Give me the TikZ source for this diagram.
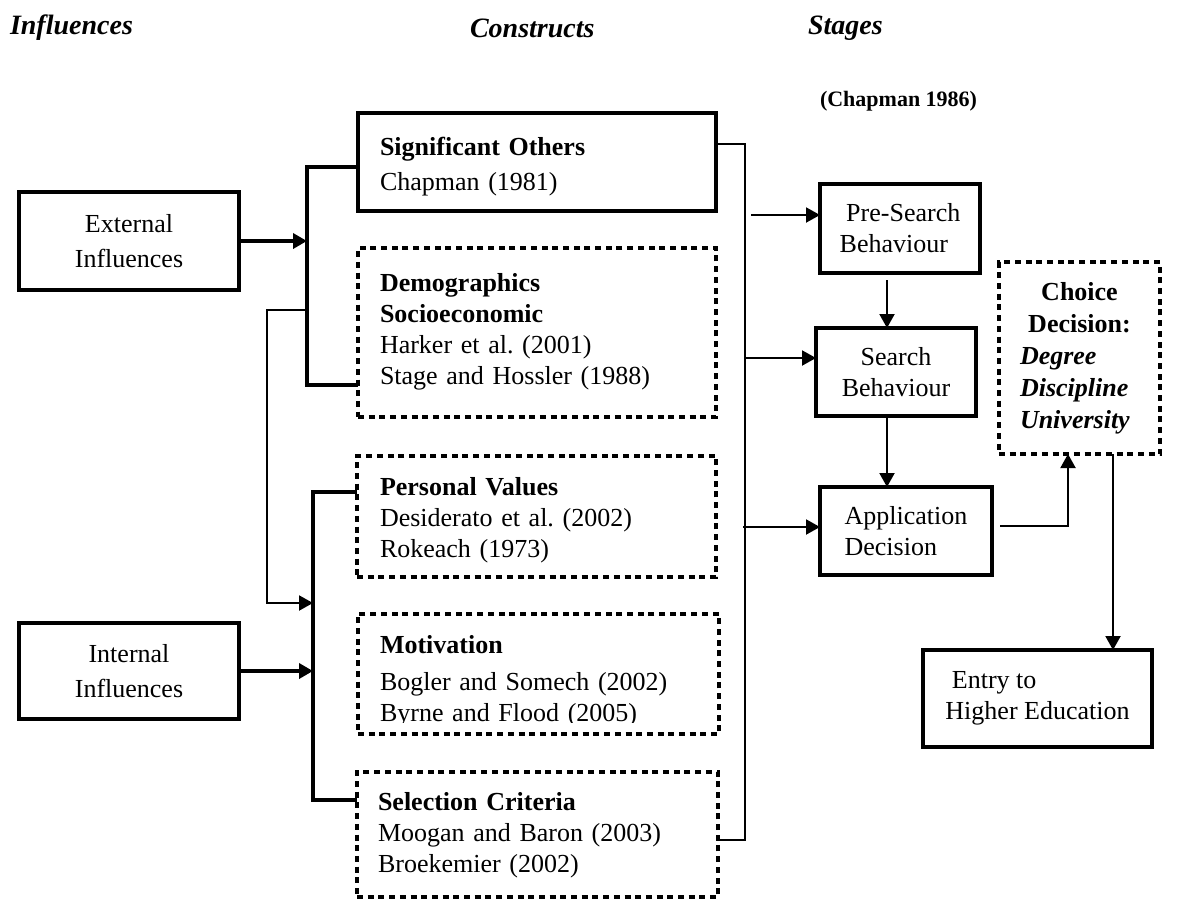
\documentclass[tikz,border=0pt]{standalone}
\usepackage{fontspec}
\setmainfont{Liberation Serif}
\usetikzlibrary{arrows.meta}
\frenchspacing
\begin{document}
\begin{tikzpicture}[x=1pt,y=-1pt,
  every node/.style={inner sep=0pt, outer sep=0pt, font=\fontsize{26}{31}\selectfont},
  hdr/.style={anchor=west, font=\fontsize{28}{32}\selectfont\bfseries\itshape},
  solidbox/.style={draw, rectangle, line width=4pt},
  stagebox/.style={draw, rectangle, line width=3.5pt, align=left},
  dotbox/.style={draw, rectangle, line width=3.5pt, dash pattern=on 6pt off 4.7pt},
  cite/.style={anchor=base west, align=left, text width=330pt},
  thick link/.style={line width=4pt},
  thin link/.style={line width=2pt},
  tip/.style={-{Triangle[length=14pt,width=15pt]}},
]
\useasboundingbox (0,0) rectangle (1193,900);

% column headings
\node[hdr] (hinf) at (10,28) {Influences};
\node[hdr] (hcon) at (470,28) {Constructs};
\node[hdr] (hsta) at (808,28) {Stages};
\node[anchor=west, font=\fontsize{22}{26}\selectfont\bfseries] (hchap) at (820,101) {(Chapman 1986)};

% influences
\node[solidbox, minimum width=220pt, minimum height=98pt, align=center,
      font=\fontsize{26}{35}\selectfont] (ext) at (129,241) {External\\Influences};
\node[solidbox, minimum width=220pt, minimum height=96pt, align=center,
      font=\fontsize{26}{35}\selectfont] (int) at (129,671) {Internal\\Influences};

% constructs
\node[solidbox, minimum width=358pt, minimum height=98pt] (sig) at (537,162) {};
\node[cite] (sigtxt) at (380,155) {\textbf{Significant Others}\\[4pt]Chapman (1981)};

\node[dotbox, minimum width=358pt, minimum height=169pt] (demo) at (537,332.5) {};
\node[cite] (demotxt) at (380,291) {\textbf{Demographics}\\\textbf{Socioeconomic}\\Harker et al. (2001)\\Stage and Hossler (1988)};

\node[dotbox, minimum width=359pt, minimum height=121pt] (pers) at (536.5,516.5) {};
\node[cite] (perstxt) at (380,495) {\textbf{Personal Values}\\Desiderato et al. (2002)\\Rokeach (1973)};

\node[dotbox, minimum width=361pt, minimum height=120pt] (motiv) at (538.5,674) {};
\begin{scope}
  \clip (360,616) rectangle (716,722);
  \node[cite] (motivtxt) at (380,653) {\textbf{Motivation}\\[6pt]Bogler and Somech (2002)\\Byrne and Flood (2005)};
\end{scope}

\node[dotbox, minimum width=361pt, minimum height=125pt] (sel) at (537.5,834.5) {};
\node[cite] (seltxt) at (378,810) {\textbf{Selection Criteria}\\Moogan and Baron (2003)\\Broekemier (2002)};

% stages
\node[stagebox, minimum width=160pt, minimum height=89pt] (pre) at (900,228.5) {\ Pre-Search\\Behaviour};
\node[stagebox, minimum width=160pt, minimum height=88pt, align=center] (search) at (896,372) {Search\\Behaviour};
\node[stagebox, minimum width=172pt, minimum height=88pt] (app) at (906,531) {Application\\Decision};
\node[dotbox, minimum width=161pt, minimum height=192pt, align=left, text width=119pt,
      font=\fontsize{26}{32}\selectfont] (choice) at (1079.5,358)
      {\hfill\textbf{Choice}\hfill\null\\\hfill\textbf{Decision:}\hfill\null\\\textbf{\textit{Degree}}\\\textbf{\textit{Discipline}}\\\textbf{\textit{University}}};
\node[stagebox, minimum width=229pt, minimum height=97pt] (entry) at (1037.5,698.5) {\ Entry to\\Higher Education};

% bracket joining the external influences
\coordinate (b1t) at (307,167);
\coordinate (b1b) at (307,385);
\draw[thick link] (b1t -| sig.west) -- (b1t) -- (b1b) -- (b1b -| demo.west);
\draw[thick link, tip] (ext.east) -- (ext.east -| b1t);

% bracket joining the internal influences
\coordinate (b2t) at (313,492);
\coordinate (b2b) at (313,800);
\draw[thick link] (b2t -| pers.west) -- (b2t) -- (b2b) -- (b2b -| sel.west);
\draw[thick link, tip] (int.east) -- (int.east -| b2t);

% external influences also feed the internal ones
\coordinate (c1) at (267,310);
\coordinate (c2) at (267,603);
\draw[thin link, tip] (c1 -| b1t) -- (c1) -- (c2) -- (c2 -| b2t);

% all constructs feed every stage
\coordinate (r1) at (745,144);
\coordinate (r2) at (745,840);
\draw[thin link] (r1 -| sig.east) -- (r1) -- (r2) -- (r2 -| sel.east);
\coordinate (s1) at (751,215);
\coordinate (s2) at (745,358);
\coordinate (s3) at (743,527);
\draw[thin link, tip] (s1) -- (s1 -| pre.west);
\draw[thin link, tip] (s2) -- (s2 -| search.west);
\draw[thin link, tip] (s3) -- (s3 -| app.west);

% stage sequence
\coordinate (v1) at (887,280);
\draw[thin link, tip] (v1) -- (v1 |- search.north);
\draw[thin link, tip] (v1 |- search.south) -- (v1 |- app.north);
\coordinate (h1) at (1000,526);
\coordinate (h2) at (1068,526);
\draw[thin link, tip] (h1) -- (h2) -- (h2 |- choice.south);
\coordinate (v3) at (1113,454);
\draw[thin link, tip] (v3 |- choice.south) -- (v3 |- entry.north);
\end{tikzpicture}
\end{document}
